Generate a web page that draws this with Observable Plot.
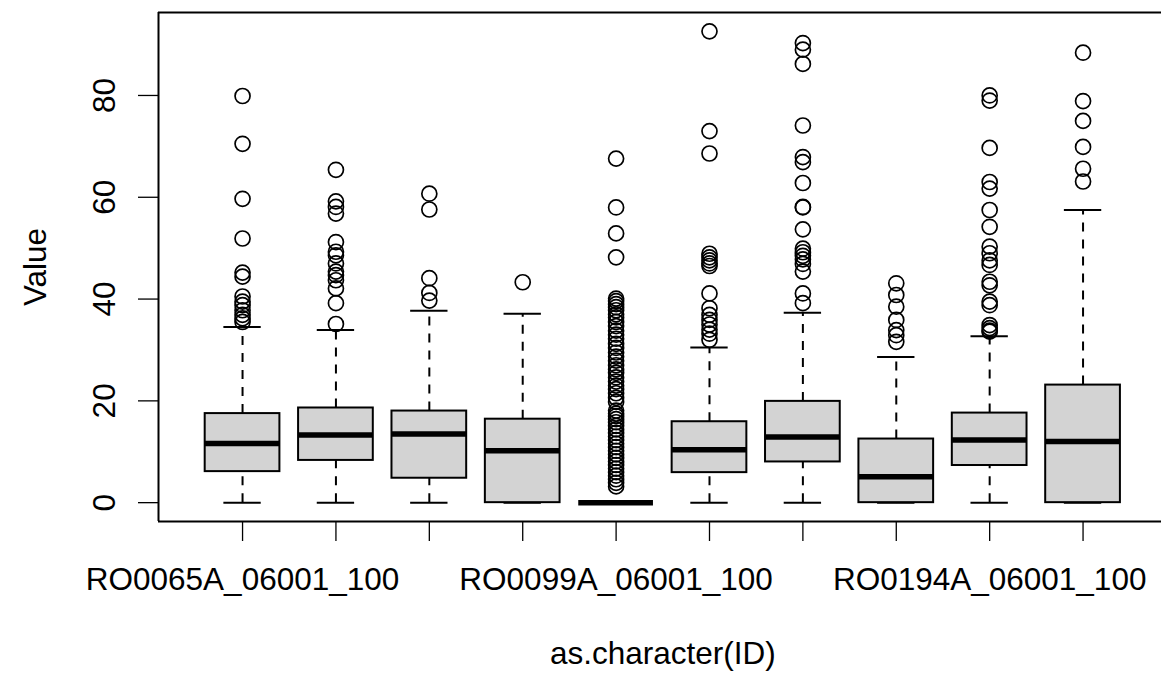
<!DOCTYPE html>
<html>
<head>
<meta charset="utf-8">
<script src="https://cdn.jsdelivr.net/npm/d3@7"></script>
<script src="https://cdn.jsdelivr.net/npm/@observablehq/plot@0.6"></script>
<style>
  html, body { margin: 0; padding: 0; background: #fff; }
  body { width: 1161px; height: 674px; overflow: hidden; }
  svg { display: block; }
</style>
</head>
<body>
<div id="chart"></div>
<script>
// ---- data ----
const groupIndex = [1, 2, 3, 4, 5, 6, 7, 8, 9, 10];
const tickLabels = ["RO0065A_06001_100", "", "", "", "RO0099A_06001_100", "", "", "", "RO0194A_06001_100", ""];
const q1  = [6.1, 8.3, 4.8, 0, 0, 5.9, 8.0, 0, 7.3, 0];
const med = [11.6, 13.3, 13.5, 10.2, 0, 10.4, 12.9, 5.1, 12.3, 12.0];
const q3  = [17.5, 18.6, 18.0, 16.4, 0, 15.9, 19.9, 12.5, 17.6, 23.1];
const whiskerLo = [0, 0, 0, 0, 0, 0, 0, 0, 0, 0];
const whiskerHi = [34.5, 33.9, 37.7, 37.1, 0, 30.5, 37.3, 28.6, 32.7, 57.5];
const outliers = [
  [79.9, 70.5, 59.7, 51.9, 45.2, 44.4, 40.5, 39.5, 38.8, 37.8, 36.9, 36.2, 35.5],
  [65.4, 59.2, 58.1, 56.8, 51.2, 49.3, 48.6, 47.0, 45.4, 44.7, 43.7, 42.1, 39.2, 35.1],
  [60.7, 57.6, 44.1, 41.2, 39.7],
  [43.3],
  [67.6, 58.0, 52.9, 48.2, 40.1, 39.6, 39.0, 38.4, 37.8, 37.0, 36.4, 35.5, 34.7, 33.8, 33.0,
   32.2, 31.2, 30.4, 29.5, 28.7, 27.9, 27.0, 26.2, 25.5, 24.6, 23.8, 23.0, 22.3, 21.5, 20.6,
   19.8, 18.1, 17.5, 17.0, 16.4, 15.8, 15.1, 14.4, 13.7, 13.0, 12.3, 11.6, 10.9, 10.2, 9.5,
   8.8, 8.1, 7.4, 6.7, 6.0, 5.3, 4.6, 3.9, 3.2],
  [92.6, 73.0, 68.6, 48.9, 48.2, 47.6, 47.0, 46.5, 41.1, 38.2, 36.9, 35.9, 35.0, 34.0, 33.2, 32.0],
  [90.3, 89.0, 86.2, 74.1, 67.9, 66.9, 62.8, 58.1, 58.0, 53.7, 49.9, 49.2, 48.5, 47.8, 46.9, 45.4, 41.1, 39.2],
  [43.1, 40.8, 38.5, 35.9, 33.9, 32.9, 31.6],
  [80.0, 79.0, 69.7, 63.0, 61.7, 57.5, 54.2, 50.3, 49.0, 47.6, 46.7, 43.4, 42.7, 39.5, 38.8, 34.9, 34.3, 33.8, 33.6],
  [88.4, 78.9, 75.0, 69.9, 65.6, 63.1]
];
const yTicks = [0, 20, 40, 60, 80];
const xTitle = "as.character(ID)";
const yTitle = "Value";

// ---- tables for the marks ----
const boxes = groupIndex.map((g, i) => ({
  g, x1: g - 0.4, x2: g + 0.4, c1: g - 0.2, c2: g + 0.2,
  q1: q1[i], med: med[i], q3: q3[i], lo: whiskerLo[i], hi: whiskerHi[i]
}));
const outPts = groupIndex.flatMap((g, i) => outliers[i].map(v => ({g, v})));
const labelRows = groupIndex.map((g, i) => ({g, label: tickLabels[i]})).filter(d => d.label);

const FS = 31.5;
const font = "Liberation Sans, Arial, Helvetica, sans-serif";

const chart = Plot.plot({
  width: 1161,
  height: 674,
  marginLeft: 158,
  marginRight: 0,
  marginTop: 12,
  marginBottom: 153,
  style: {fontFamily: font, background: "#fff", color: "#000"},
  x: {type: "linear", domain: [0.1, 10.84]},
  y: {domain: [-3.7, 96.3]},
  marks: [
    // frame (right side falls outside the picture)
    Plot.ruleY([-3.7, 96.3], {stroke: "#000", strokeWidth: 2}),
    Plot.ruleX([0.1], {stroke: "#000", strokeWidth: 2}),
    // whiskers
    Plot.ruleX(boxes, {x: "g", y1: "q3", y2: "hi", stroke: "#000", strokeWidth: 2, strokeDasharray: "9,8"}),
    Plot.ruleX(boxes, {x: "g", y1: "lo", y2: "q1", stroke: "#000", strokeWidth: 2, strokeDasharray: "9,8"}),
    Plot.ruleY(boxes, {y: "hi", x1: "c1", x2: "c2", stroke: "#000", strokeWidth: 2}),
    Plot.ruleY(boxes, {y: "lo", x1: "c1", x2: "c2", stroke: "#000", strokeWidth: 2}),
    // boxes
    Plot.rect(boxes, {x1: "x1", x2: "x2", y1: "q1", y2: "q3", fill: "#d3d3d3", stroke: "#000", strokeWidth: 2}),
    // medians
    Plot.ruleY(boxes, {y: "med", x1: "x1", x2: "x2", stroke: "#000", strokeWidth: 5.5}),
    // outliers
    Plot.dot(outPts, {x: "g", y: "v", r: 7.5, stroke: "#000", strokeWidth: 1.7, fill: "none"}),
    // axes
    Plot.axisX({ticks: groupIndex, tickSize: 20, tickFormat: () => "", strokeWidth: 1.3}),
    Plot.axisY({ticks: yTicks, tickSize: 20, tickFormat: () => "", strokeWidth: 1.3}),
    Plot.text(labelRows, {x: "g", text: "label", frameAnchor: "bottom", dy: 46, lineAnchor: "top", fontSize: FS, fill: "#000"}),
    Plot.text(yTicks, {y: d => d, text: d => String(d), frameAnchor: "left", dx: -44, rotate: -90, textAnchor: "middle", lineAnchor: "bottom", fontSize: FS, fill: "#000"}),
    Plot.text([xTitle], {text: d => d, frameAnchor: "bottom", x: 5.5, dy: 120, lineAnchor: "top", fontSize: FS, fill: "#000"}),
    Plot.text([yTitle], {text: d => d, frameAnchor: "left", y: 46.3, dx: -113, rotate: -90, textAnchor: "middle", lineAnchor: "bottom", fontSize: FS, fill: "#000"})
  ]
});
document.getElementById("chart").appendChild(chart);
</script>
</body>
</html>
